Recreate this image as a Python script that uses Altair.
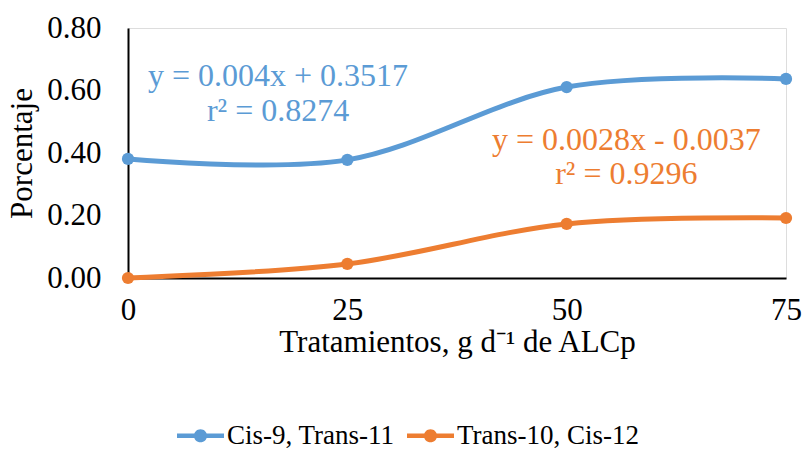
import altair as alt
import pandas as pd

tratamientos = [0, 25, 50, 75]
cis9_trans11 = [0.381, 0.378, 0.611, 0.637]
trans10_cis12 = [0.0, 0.045, 0.173, 0.192]
series_names = ["Cis-9, Trans-11", "Trans-10, Cis-12"]
colors = ["#5B9BD5", "#ED7D31"]

eq_x = [17.1, 17.1, 56.8, 56.8]
eq_y = [0.648, 0.535, 0.442, 0.333]
eq_text = ["y = 0.004x + 0.3517", "r² = 0.8274", "y = 0.0028x - 0.0037", "r² = 0.9296"]
eq_series = [series_names[0], series_names[0], series_names[1], series_names[1]]

rows = []
for x, v in zip(tratamientos, cis9_trans11):
    rows.append({"x": x, "y": v, "s": series_names[0]})
for x, v in zip(tratamientos, trans10_cis12):
    rows.append({"x": x, "y": v, "s": series_names[1]})
df = pd.DataFrame(rows)
ann = pd.DataFrame({"x": eq_x, "y": eq_y, "t": eq_text, "s": eq_series})

FONT = "Liberation Serif"
FS = 31

xenc = alt.X("x:Q", scale=alt.Scale(domain=[0, 75], nice=False, zero=False),
             axis=alt.Axis(values=tratamientos, title="Tratamientos, g d⁻¹ de ALCp",
                           format="d", ticks=False, grid=False, domainColor="#000000",
                           domainWidth=2, labelFontSize=FS, labelFont=FONT, labelFlush=False,
                           labelColor="#000000", labelPadding=17, titleFont=FONT,
                           titleFontSize=FS, titleFontWeight="normal", titleColor="#000000",
                           titlePadding=2))
yenc = alt.Y("y:Q", scale=alt.Scale(domain=[0, 0.8], nice=False),
             axis=alt.Axis(values=[0, 0.2, 0.4, 0.6, 0.8], format=".2f", title="Porcentaje",
                           ticks=False, grid=False, domainColor="#000000", domainWidth=2,
                           labelFontSize=FS, labelFont=FONT, labelColor="#000000", labelFlush=False,
                           labelPadding=27, titleFont=FONT, titleFontSize=FS,
                           titleFontWeight="normal", titleColor="#000000", titlePadding=8))

symbol_path = ("M-1,-0.1 L1,-0.1 L1,0.1 L-1,0.1 Z "
               "M0.28,0 A0.28,0.28 0 1,1 -0.28,0 A0.28,0.28 0 1,1 0.28,0 Z")

color_scale = alt.Scale(domain=series_names, range=colors)
legend = alt.Legend(title=None, orient="none", direction="horizontal",
                    legendX=49, legendY=384, symbolType=symbol_path,
                    symbolSize=2209, symbolStrokeWidth=0, symbolOpacity=1,
                    labelFont=FONT, labelFontSize=27, labelColor="#000000",
                    labelLimit=400, labelOffset=3, columnPadding=12)
cenc = alt.Color("s:N", scale=color_scale, legend=legend)

line = alt.Chart(df).mark_line(strokeWidth=5, interpolate="cardinal").encode(
    x=xenc, y=yenc, color=cenc, detail="s:N",
)

points = alt.Chart(df).mark_point(filled=True, size=150, opacity=1).encode(
    x=xenc, y=yenc, color=cenc,
)

text = alt.Chart(ann).mark_text(font=FONT, fontSize=32, align="center", baseline="middle").encode(
    x=xenc, y=yenc, text="t:N", color=cenc,
)

chart = alt.layer(line, points, text).properties(
    width=658, height=250,
    autosize=alt.AutoSizeParams(type="none"),
    padding={"left": 128, "top": 28, "right": 17, "bottom": 172},
).configure_view(stroke=None).configure(background="white")

chart.save("out.html", embed_options={"renderer": "svg", "actions": False})
